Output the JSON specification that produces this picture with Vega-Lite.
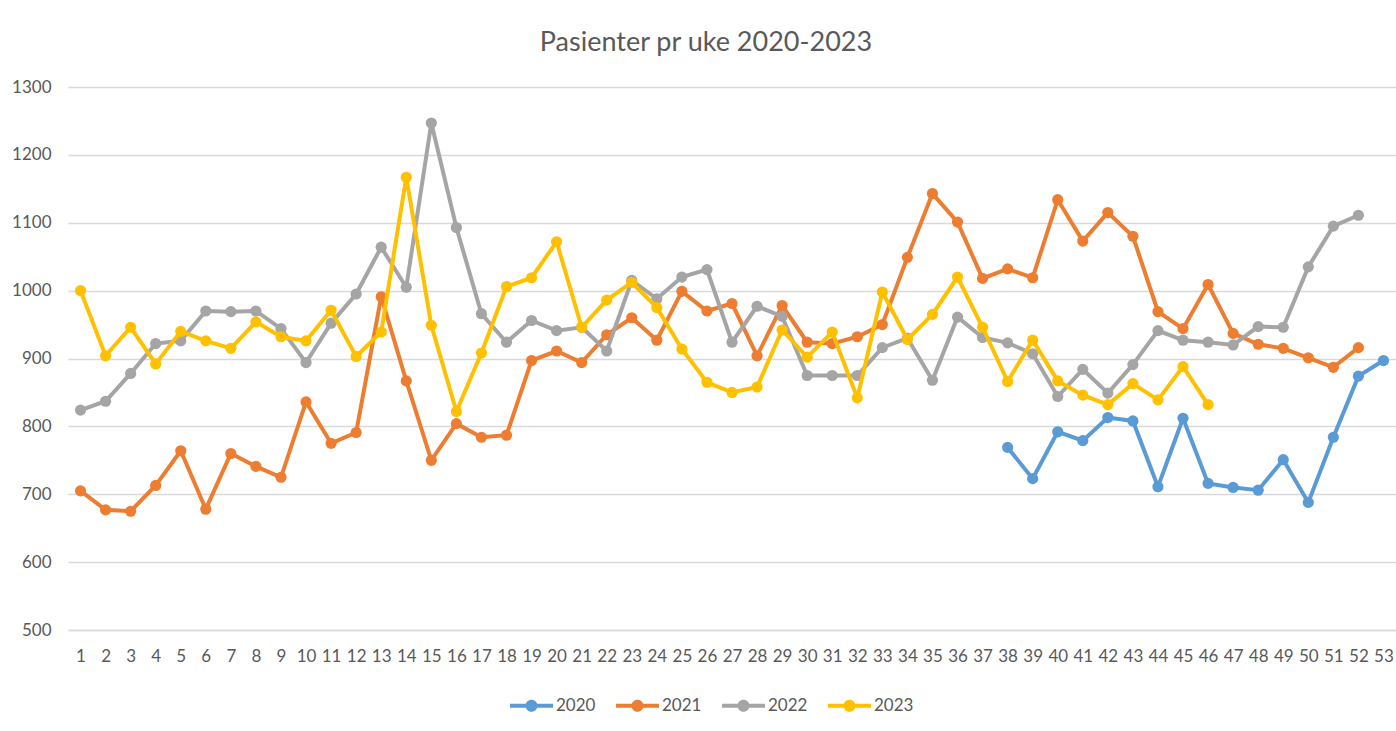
{
  "$schema": "https://vega.github.io/schema/vega-lite/v6.json",
  "width": 1328,
  "height": 543,
  "autosize": {"type": "none"},
  "padding": {"left": 68, "top": 87, "right": 0, "bottom": 101},
  "background": "white",
  "title": {
    "text": "Pasienter pr uke 2020-2023",
    "font": "Lato",
    "fontSize": 27,
    "fontWeight": "normal",
    "color": "#595959",
    "anchor": "middle",
    "frame": "group",
    "baseline": "alphabetic",
    "offset": 0,
    "dx": -26
  },
  "config": {
    "view": {"stroke": null},
    "axis": {"labelFont": "Lato", "labelFontSize": 17, "labelColor": "#595959"},
    "legend": {"labelFont": "Lato", "labelFontSize": 17, "labelColor": "#595959"}
  },
  "data": {
    "values": [
      {"year": "2020", "week": 38, "patients": 769}, {"year": "2020", "week": 39, "patients": 723}, {"year": "2020", "week": 40, "patients": 792}, {"year": "2020", "week": 41, "patients": 779},
      {"year": "2020", "week": 42, "patients": 813}, {"year": "2020", "week": 43, "patients": 808}, {"year": "2020", "week": 44, "patients": 711}, {"year": "2020", "week": 45, "patients": 812},
      {"year": "2020", "week": 46, "patients": 716}, {"year": "2020", "week": 47, "patients": 710}, {"year": "2020", "week": 48, "patients": 706}, {"year": "2020", "week": 49, "patients": 751},
      {"year": "2020", "week": 50, "patients": 688}, {"year": "2020", "week": 51, "patients": 784}, {"year": "2020", "week": 52, "patients": 874}, {"year": "2020", "week": 53, "patients": 897},

      {"year": "2021", "week": 1, "patients": 705}, {"year": "2021", "week": 2, "patients": 677}, {"year": "2021", "week": 3, "patients": 675}, {"year": "2021", "week": 4, "patients": 713},
      {"year": "2021", "week": 5, "patients": 764}, {"year": "2021", "week": 6, "patients": 678}, {"year": "2021", "week": 7, "patients": 760}, {"year": "2021", "week": 8, "patients": 741},
      {"year": "2021", "week": 9, "patients": 725}, {"year": "2021", "week": 10, "patients": 836}, {"year": "2021", "week": 11, "patients": 775}, {"year": "2021", "week": 12, "patients": 791},
      {"year": "2021", "week": 13, "patients": 991}, {"year": "2021", "week": 14, "patients": 867}, {"year": "2021", "week": 15, "patients": 750}, {"year": "2021", "week": 16, "patients": 804},
      {"year": "2021", "week": 17, "patients": 784}, {"year": "2021", "week": 18, "patients": 787}, {"year": "2021", "week": 19, "patients": 897}, {"year": "2021", "week": 20, "patients": 911},
      {"year": "2021", "week": 21, "patients": 894}, {"year": "2021", "week": 22, "patients": 935}, {"year": "2021", "week": 23, "patients": 960}, {"year": "2021", "week": 24, "patients": 927},
      {"year": "2021", "week": 25, "patients": 999}, {"year": "2021", "week": 26, "patients": 970}, {"year": "2021", "week": 27, "patients": 981}, {"year": "2021", "week": 28, "patients": 904},
      {"year": "2021", "week": 29, "patients": 978}, {"year": "2021", "week": 30, "patients": 924}, {"year": "2021", "week": 31, "patients": 922}, {"year": "2021", "week": 32, "patients": 932},
      {"year": "2021", "week": 33, "patients": 950}, {"year": "2021", "week": 34, "patients": 1049}, {"year": "2021", "week": 35, "patients": 1143}, {"year": "2021", "week": 36, "patients": 1101},
      {"year": "2021", "week": 37, "patients": 1018}, {"year": "2021", "week": 38, "patients": 1032}, {"year": "2021", "week": 39, "patients": 1019}, {"year": "2021", "week": 40, "patients": 1134},
      {"year": "2021", "week": 41, "patients": 1073}, {"year": "2021", "week": 42, "patients": 1115}, {"year": "2021", "week": 43, "patients": 1080}, {"year": "2021", "week": 44, "patients": 969},
      {"year": "2021", "week": 45, "patients": 944}, {"year": "2021", "week": 46, "patients": 1009}, {"year": "2021", "week": 47, "patients": 937}, {"year": "2021", "week": 48, "patients": 921},
      {"year": "2021", "week": 49, "patients": 915}, {"year": "2021", "week": 50, "patients": 901}, {"year": "2021", "week": 51, "patients": 887}, {"year": "2021", "week": 52, "patients": 916},

      {"year": "2022", "week": 1, "patients": 824}, {"year": "2022", "week": 2, "patients": 837}, {"year": "2022", "week": 3, "patients": 878}, {"year": "2022", "week": 4, "patients": 922},
      {"year": "2022", "week": 5, "patients": 926}, {"year": "2022", "week": 6, "patients": 970}, {"year": "2022", "week": 7, "patients": 969}, {"year": "2022", "week": 8, "patients": 970},
      {"year": "2022", "week": 9, "patients": 944}, {"year": "2022", "week": 10, "patients": 894}, {"year": "2022", "week": 11, "patients": 952}, {"year": "2022", "week": 12, "patients": 995},
      {"year": "2022", "week": 13, "patients": 1064}, {"year": "2022", "week": 14, "patients": 1005}, {"year": "2022", "week": 15, "patients": 1247}, {"year": "2022", "week": 16, "patients": 1093},
      {"year": "2022", "week": 17, "patients": 966}, {"year": "2022", "week": 18, "patients": 924}, {"year": "2022", "week": 19, "patients": 956}, {"year": "2022", "week": 20, "patients": 941},
      {"year": "2022", "week": 21, "patients": 946}, {"year": "2022", "week": 22, "patients": 911}, {"year": "2022", "week": 23, "patients": 1015}, {"year": "2022", "week": 24, "patients": 988},
      {"year": "2022", "week": 25, "patients": 1020}, {"year": "2022", "week": 26, "patients": 1031}, {"year": "2022", "week": 27, "patients": 924}, {"year": "2022", "week": 28, "patients": 977},
      {"year": "2022", "week": 29, "patients": 962}, {"year": "2022", "week": 30, "patients": 875}, {"year": "2022", "week": 31, "patients": 875}, {"year": "2022", "week": 32, "patients": 875},
      {"year": "2022", "week": 33, "patients": 916}, {"year": "2022", "week": 34, "patients": 930}, {"year": "2022", "week": 35, "patients": 868}, {"year": "2022", "week": 36, "patients": 961},
      {"year": "2022", "week": 37, "patients": 931}, {"year": "2022", "week": 38, "patients": 923}, {"year": "2022", "week": 39, "patients": 907}, {"year": "2022", "week": 40, "patients": 844},
      {"year": "2022", "week": 41, "patients": 884}, {"year": "2022", "week": 42, "patients": 849}, {"year": "2022", "week": 43, "patients": 891}, {"year": "2022", "week": 44, "patients": 941},
      {"year": "2022", "week": 45, "patients": 927}, {"year": "2022", "week": 46, "patients": 924}, {"year": "2022", "week": 47, "patients": 920}, {"year": "2022", "week": 48, "patients": 947},
      {"year": "2022", "week": 49, "patients": 946}, {"year": "2022", "week": 50, "patients": 1035}, {"year": "2022", "week": 51, "patients": 1095}, {"year": "2022", "week": 52, "patients": 1111},

      {"year": "2023", "week": 1, "patients": 1000}, {"year": "2023", "week": 2, "patients": 904}, {"year": "2023", "week": 3, "patients": 946}, {"year": "2023", "week": 4, "patients": 892},
      {"year": "2023", "week": 5, "patients": 940}, {"year": "2023", "week": 6, "patients": 926}, {"year": "2023", "week": 7, "patients": 915}, {"year": "2023", "week": 8, "patients": 954},
      {"year": "2023", "week": 9, "patients": 932}, {"year": "2023", "week": 10, "patients": 926}, {"year": "2023", "week": 11, "patients": 971}, {"year": "2023", "week": 12, "patients": 903},
      {"year": "2023", "week": 13, "patients": 939}, {"year": "2023", "week": 14, "patients": 1167}, {"year": "2023", "week": 15, "patients": 949}, {"year": "2023", "week": 16, "patients": 822},
      {"year": "2023", "week": 17, "patients": 908}, {"year": "2023", "week": 18, "patients": 1006}, {"year": "2023", "week": 19, "patients": 1019}, {"year": "2023", "week": 20, "patients": 1072},
      {"year": "2023", "week": 21, "patients": 946}, {"year": "2023", "week": 22, "patients": 986}, {"year": "2023", "week": 23, "patients": 1012}, {"year": "2023", "week": 24, "patients": 975},
      {"year": "2023", "week": 25, "patients": 914}, {"year": "2023", "week": 26, "patients": 865}, {"year": "2023", "week": 27, "patients": 850}, {"year": "2023", "week": 28, "patients": 858},
      {"year": "2023", "week": 29, "patients": 942}, {"year": "2023", "week": 30, "patients": 902}, {"year": "2023", "week": 31, "patients": 939}, {"year": "2023", "week": 32, "patients": 842},
      {"year": "2023", "week": 33, "patients": 998}, {"year": "2023", "week": 34, "patients": 928}, {"year": "2023", "week": 35, "patients": 965}, {"year": "2023", "week": 36, "patients": 1020},
      {"year": "2023", "week": 37, "patients": 946}, {"year": "2023", "week": 38, "patients": 866}, {"year": "2023", "week": 39, "patients": 927}, {"year": "2023", "week": 40, "patients": 867},
      {"year": "2023", "week": 41, "patients": 846}, {"year": "2023", "week": 42, "patients": 832}, {"year": "2023", "week": 43, "patients": 863}, {"year": "2023", "week": 44, "patients": 839},
      {"year": "2023", "week": 45, "patients": 888}, {"year": "2023", "week": 46, "patients": 832}
    ]
  },
  "encoding": {
    "x": {
      "field": "week",
      "type": "ordinal",
      "scale": {"type": "point", "padding": 0.5},
      "axis": {
        "title": null,
        "labelAngle": 0,
        "ticks": false,
        "domain": true,
        "domainColor": "#D9D9D9",
        "domainWidth": 1.5,
        "labelPadding": 18
      }
    },
    "y": {
      "field": "patients",
      "type": "quantitative",
      "scale": {"domain": [500, 1300], "nice": false, "zero": false},
      "axis": {
        "title": null,
        "format": "d",
        "values": [500, 600, 700, 800, 900, 1000, 1100, 1200, 1300],
        "domain": false,
        "ticks": false,
        "grid": true,
        "gridColor": "#D9D9D9",
        "gridWidth": 1.5,
        "labelPadding": 17
      }
    },
    "color": {
      "field": "year",
      "type": "nominal",
      "scale": {
        "domain": ["2020", "2021", "2022", "2023"],
        "range": ["#5B9BD5", "#ED7D31", "#A5A5A5", "#FFC000"]
      },
      "legend": {
        "title": null,
        "orient": "none",
        "legendX": 442,
        "legendY": 597,
        "direction": "horizontal",
        "symbolType": "M-1,-0.09H1V0.09H-1Z M-0.28,0A0.28,0.28 0 1,1 0.28,0A0.28,0.28 0 1,1 -0.28,0Z",
        "symbolSize": 1849,
        "symbolStrokeWidth": 0,
        "labelOffset": 3,
        "columnPadding": 20,
        "encode": {
          "symbols": {
            "update": {
              "fill": {"scale": "color", "field": "value"},
              "stroke": {"value": "transparent"},
              "opacity": {"value": 1}
            }
          }
        }
      }
    }
  },
  "layer": [
    {
      "transform": [{"filter": {"field": "year", "equal": "2020"}}],
      "mark": {"type": "line", "strokeWidth": 4, "point": {"filled": true, "size": 125, "opacity": 1}}
    },
    {
      "transform": [{"filter": {"field": "year", "equal": "2021"}}],
      "mark": {"type": "line", "strokeWidth": 4, "point": {"filled": true, "size": 125, "opacity": 1}}
    },
    {
      "transform": [{"filter": {"field": "year", "equal": "2022"}}],
      "mark": {"type": "line", "strokeWidth": 4, "point": {"filled": true, "size": 125, "opacity": 1}}
    },
    {
      "transform": [{"filter": {"field": "year", "equal": "2023"}}],
      "mark": {"type": "line", "strokeWidth": 4, "point": {"filled": true, "size": 125, "opacity": 1}}
    }
  ]
}
